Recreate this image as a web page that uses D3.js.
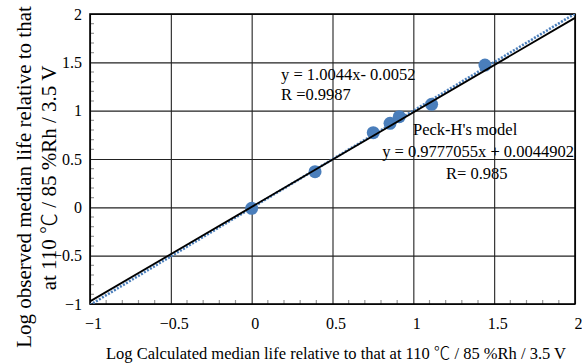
<!DOCTYPE html>
<html>
<head>
<meta charset="utf-8">
<script src="https://cdn.jsdelivr.net/npm/d3@7"></script>
<style>
  body { margin: 0; background: #fff; }
  text { font-family: "Liberation Serif", "Times New Roman", serif; fill: #000; }
  .deg { font-family: "Noto Sans CJK JP", sans-serif; font-weight: 300; }
</style>
</head>
<body>
<script>
var width = 582, height = 363;
var margin = {left: 90, right: 7, top: 14, bottom: 59};

// observed vs calculated (log)
var calcLife = [0.0, 0.392, 0.752, 0.856, 0.913, 1.113, 1.443];
var obsLife = [-0.01, 0.369, 0.772, 0.869, 0.938, 1.066, 1.472];

var majorTicks = [-1, -0.5, 0, 0.5, 1, 1.5, 2];
var trend = {slope: 1.0044, icpt: -0.0052};
var peck = {slope: 0.9777055, icpt: 0.0044902};

var svg = d3.select("body").append("svg")
    .attr("width", width)
    .attr("height", height);

var x = d3.scaleLinear().domain([-1, 2]).range([margin.left, width - margin.right]);
var y = d3.scaleLinear().domain([-1, 2]).range([height - margin.bottom, margin.top]);

svg.append("defs").append("clipPath").attr("id", "clip")
    .append("rect")
    .attr("x", x(-1)).attr("y", y(2))
    .attr("width", x(2) - x(-1)).attr("height", y(-1) - y(2));

// minor ticks every 0.1, pointing inward
var minor = d3.range(-9, 20).map(function (d) { return d / 10; })
    .filter(function (d) { return Math.abs(d * 2 - Math.round(d * 2)) > 1e-6; });

svg.append("g").selectAll("line").data(minor).enter().append("line")
    .attr("x1", function (d) { return x(d); })
    .attr("x2", function (d) { return x(d); })
    .attr("y1", y(-1)).attr("y2", y(-1) - 4)
    .attr("stroke", "#999").attr("stroke-width", 1.2);

svg.append("g").selectAll("line").data(minor).enter().append("line")
    .attr("y1", function (d) { return y(d); })
    .attr("y2", function (d) { return y(d); })
    .attr("x1", x(-1)).attr("x2", x(-1) + 4)
    .attr("stroke", "#999").attr("stroke-width", 1.2);

// grid
svg.append("g").attr("class", "grid")
    .attr("transform", "translate(0," + y(-1) + ")")
    .call(d3.axisBottom(x).tickValues(majorTicks).tickSize(-(y(-1) - y(2))).tickFormat(""))
    .call(function (g) { g.select(".domain").remove(); })
    .selectAll("line").attr("stroke", "#222").attr("stroke-width", 1.1);

svg.append("g").attr("class", "grid")
    .attr("transform", "translate(" + x(-1) + ",0)")
    .call(d3.axisLeft(y).tickValues(majorTicks).tickSize(-(x(2) - x(-1))).tickFormat(""))
    .call(function (g) { g.select(".domain").remove(); })
    .selectAll("line").attr("stroke", "#222").attr("stroke-width", 1.1);

// frame
svg.append("rect")
    .attr("x", x(-1)).attr("y", y(2))
    .attr("width", x(2) - x(-1)).attr("height", y(-1) - y(2))
    .attr("fill", "none").attr("stroke", "#000").attr("stroke-width", 1.6);

// tick labels
var xAxis = svg.append("g")
    .attr("transform", "translate(0," + y(-1) + ")")
    .call(d3.axisBottom(x).tickValues(majorTicks).tickSize(0).tickPadding(14).tickFormat(d3.format("")));
xAxis.select(".domain").remove();
xAxis.selectAll("text").attr("dx", 3).style("font-size", "16px").style("font-family", "Liberation Serif");

var yAxis = svg.append("g")
    .attr("transform", "translate(" + x(-1) + ",0)")
    .call(d3.axisLeft(y).tickValues(majorTicks).tickSize(0).tickPadding(8).tickFormat(d3.format("")));
yAxis.select(".domain").remove();
yAxis.selectAll("text").style("font-size", "16px").style("font-family", "Liberation Serif");

// points
svg.append("g").selectAll("circle")
    .data(calcLife).enter().append("circle")
    .attr("cx", function (d) { return x(d); })
    .attr("cy", function (d, i) { return y(obsLife[i]); })
    .attr("r", 6.5)
    .attr("fill", "#4a7ebb");

var plot = svg.append("g").attr("clip-path", "url(#clip)");

// trend line (dotted blue)
plot.append("line")
    .attr("x1", x(-1)).attr("y1", y(trend.slope * -1 + trend.icpt))
    .attr("x2", x(2)).attr("y2", y(trend.slope * 2 + trend.icpt))
    .attr("stroke", "#4a7ebb").attr("stroke-width", 2.6)
    .attr("stroke-dasharray", "2,1.5");

// Peck-H's model line
plot.append("line")
    .attr("x1", x(-1)).attr("y1", y(peck.slope * -1 + peck.icpt))
    .attr("x2", x(2)).attr("y2", y(peck.slope * 2 + peck.icpt))
    .attr("stroke", "#000").attr("stroke-width", 1.8);

// annotations
function label(tx, ty, s, anchor) {
    svg.append("text").attr("x", tx).attr("y", ty)
        .attr("text-anchor", anchor || "start")
        .style("font-size", "16.5px")
        .text(s);
}
label(281, 80, "y = 1.0044x- 0.0052");
label(281, 100, "R =0.9987");
label(413, 135, "Peck-H's model");
label(574, 157, "y = 0.9777055x + 0.0044902", "end");
label(446, 179, "R= 0.985");

// axis titles
var xt = svg.append("text")
    .attr("x", 336).attr("y", 359)
    .attr("text-anchor", "middle")
    .style("font-size", "16.5px");
xt.append("tspan").text("Log Calculated median life relative to that at 110 ");
xt.append("tspan").attr("class", "deg").text("\u2103");
xt.append("tspan").text(" / 85 %Rh / 3.5 V");

var yt = svg.append("text")
    .attr("transform", "translate(0,177) rotate(-90)")
    .attr("text-anchor", "middle")
    .style("font-size", "21px");
yt.append("tspan").attr("x", 0).attr("y", 31).text("Log observed median life relative to that");
var yt2 = svg.append("text")
    .attr("transform", "translate(0,178) rotate(-90)")
    .attr("text-anchor", "middle")
    .style("font-size", "21px");
yt2.append("tspan").attr("x", 0).attr("y", 56).text("at 110 ");
yt2.append("tspan").attr("class", "deg").text("\u2103");
yt2.append("tspan").text(" / 85 %Rh / 3.5 V");
</script>
</body>
</html>
